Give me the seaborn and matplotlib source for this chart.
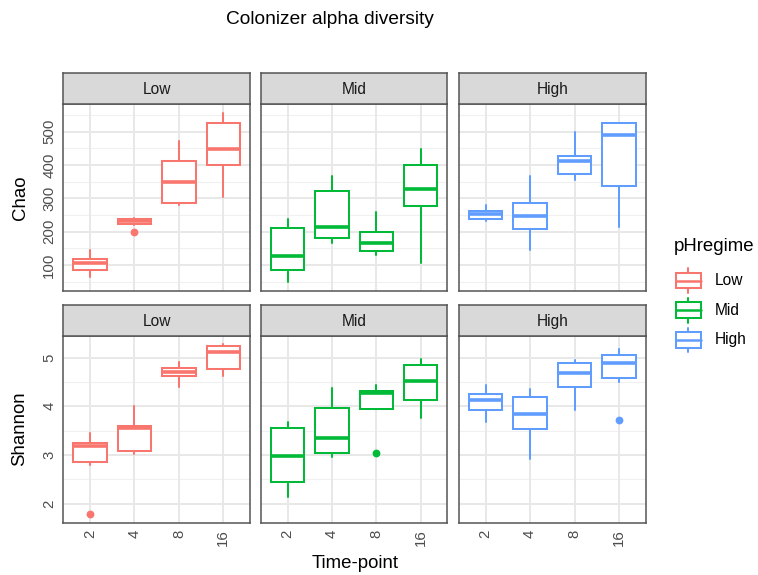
import matplotlib
matplotlib.use("Agg")
import matplotlib.pyplot as plt
from matplotlib.patches import Rectangle
import numpy as np
import pandas as pd
import seaborn as sns

# ---------------------------------------------------------------- data
timepoints = ["2", "4", "8", "16"]
regimes = ["Low", "Mid", "High"]
metrics = ["Chao", "Shannon"]

# per time-point: [lower whisker, Q1, median, Q3, upper whisker]
chao_low = [[65, 85, 105, 117, 145], [221, 223, 232, 239, 241],
            [280, 287, 348, 413, 473], [305, 400, 447, 527, 557]]
chao_mid = [[48, 85, 128, 210, 238], [167, 182, 215, 323, 367],
            [130, 143, 165, 198, 258], [107, 278, 327, 400, 447]]
chao_high = [[233, 237, 252, 263, 280], [145, 208, 248, 285, 367],
             [355, 372, 412, 427, 500], [215, 337, 489, 525, 527]]

shannon_low = [[2.79, 2.86, 3.18, 3.25, 3.44], [3.01, 3.08, 3.56, 3.59, 4.00],
               [4.40, 4.62, 4.71, 4.78, 4.92], [4.62, 4.77, 5.12, 5.24, 5.27]]
shannon_mid = [[2.14, 2.45, 2.98, 3.55, 3.68], [2.96, 3.03, 3.34, 3.97, 4.37],
               [3.95, 3.95, 4.27, 4.32, 4.43], [3.75, 4.13, 4.52, 4.85, 4.98]]
shannon_high = [[3.68, 3.92, 4.13, 4.26, 4.44], [2.91, 3.53, 3.85, 4.20, 4.36],
                [3.92, 4.40, 4.68, 4.88, 4.95], [4.49, 4.58, 4.88, 5.05, 5.17]]

chao_outliers = {("Low", "4"): [200]}
shannon_outliers = {("Low", "2"): [1.78], ("Mid", "8"): [3.03], ("High", "16"): [3.71]}

chao_ticks = [100, 200, 300, 400, 500]
shannon_ticks = [2, 3, 4, 5]

summaries = {
    "Chao": {"Low": chao_low, "Mid": chao_mid, "High": chao_high},
    "Shannon": {"Low": shannon_low, "Mid": shannon_mid, "High": shannon_high},
}
outliers = {"Chao": chao_outliers, "Shannon": shannon_outliers}
yticks = {"Chao": chao_ticks, "Shannon": shannon_ticks}

rows = []
for m in metrics:
    for r in regimes:
        for t, (wl, q1, med, q3, wh) in zip(timepoints, summaries[m][r]):
            rows.append(dict(metric=m, regime=r, time=t, whislo=wl, q1=q1,
                             med=med, q3=q3, whishi=wh,
                             fliers=outliers[m].get((r, t), [])))
df = pd.DataFrame(rows)

# ---------------------------------------------------------------- style
sns.set_theme(style="white")
plt.rcParams["font.family"] = ["Liberation Sans", "DejaVu Sans"]
palette = dict(zip(regimes, sns.color_palette(["#F8766D", "#00BA38", "#619CFF"])))

W, H = 758, 575
fig = plt.figure(figsize=(W / 100, H / 100), dpi=100)
fig.patch.set_facecolor("white")


def px_axes(x0, y0, x1, y1):
    return fig.add_axes([x0 / W, 1 - y1 / H, (x1 - x0) / W, (y1 - y0) / H])


col_x = [(63.3, 250.0), (261.0, 447.3), (459.0, 645.7)]
row_y = [((73.3, 104.3), (104.3, 290.7)), ((305.0, 336.0), (336.0, 522.7))]
border = "#555555"
tick_col = "#4D4D4D"
lw_box = 1.45

for ri, m in enumerate(metrics):
    sub_m = df[df.metric == m]
    vals = np.concatenate([sub_m[["whislo", "whishi"]].to_numpy().ravel(),
                           np.concatenate([np.asarray(f, float) for f in sub_m.fliers] + [np.array([])])])
    lo, hi = vals.min(), vals.max()
    pad = 0.05 * (hi - lo)
    ticks = yticks[m]
    step = ticks[1] - ticks[0]
    minor = np.arange(ticks[0] - step / 2, ticks[-1] + step, step)

    (sy0, sy1), (py0, py1) = row_y[ri]
    for ci, r in enumerate(regimes):
        x0, x1 = col_x[ci]
        sub = sub_m[sub_m.regime == r].set_index("time").loc[timepoints]
        ax = px_axes(x0, py0, x1, py1)
        ax.set_facecolor("white")
        ax.set_xlim(0.4, len(timepoints) + 0.6)
        ax.set_ylim(lo - pad, hi + pad)

        # grid
        for v in minor:
            ax.axhline(v, color="#F0F0F0", lw=0.8, zorder=0)
        for v in ticks:
            ax.axhline(v, color="#E8E8E8", lw=1.4, zorder=0)
        for k in range(len(timepoints)):
            ax.axvline(k + 1, color="#E8E8E8", lw=1.4, zorder=0)

        color = palette[r]
        stats = [dict(whislo=row.whislo, q1=row.q1, med=row.med, q3=row.q3,
                      whishi=row.whishi, fliers=row.fliers, label=t)
                 for t, row in sub.iterrows()]
        ax.bxp(stats, positions=np.arange(1, len(timepoints) + 1), widths=0.75,
               showcaps=False, showfliers=True, patch_artist=True,
               boxprops=dict(facecolor="white", edgecolor=color, linewidth=lw_box),
               medianprops=dict(color=color, linewidth=2.6, solid_capstyle="butt"),
               whiskerprops=dict(color=color, linewidth=lw_box),
               flierprops=dict(marker="o", markerfacecolor=color, markeredgecolor=color,
                               markersize=4.6, linestyle="none"),
               zorder=3)

        ax.set_xticks(np.arange(1, len(timepoints) + 1))
        ax.set_xlim(0.4, len(timepoints) + 0.6)
        ax.set_yticks(ticks)
        ax.tick_params(axis="both", length=3, width=0.9, color="#333333",
                       labelcolor=tick_col, labelsize=10.8, pad=2)
        if ri == len(metrics) - 1:
            ax.set_xticklabels(timepoints, rotation=90)
        else:
            ax.set_xticklabels([])
        if ci == 0:
            ax.set_yticklabels([str(t) for t in ticks], rotation=90, va="center")
        else:
            ax.set_yticklabels([])
            ax.tick_params(axis="y", length=0)
        for s in ax.spines.values():
            s.set_color(border)
            s.set_linewidth(1.1)
        ax.grid(False)

        # facet strip
        sax = px_axes(x0, sy0, x1, sy1)
        sax.set_facecolor("#D9D9D9")
        sax.set_xticks([])
        sax.set_yticks([])
        for s in sax.spines.values():
            s.set_color(border)
            s.set_linewidth(1.1)
        sax.text(0.5, 0.48, r, ha="center", va="center", fontsize=11.2,
                 color="#1A1A1A", transform=sax.transAxes)

# titles and axis labels
fig.text(330 / W, 1 - 20 / H, "Colonizer alpha diversity", ha="center", va="center",
         fontsize=13.8, color="black")
fig.text(20 / W, 1 - 197.5 / H, "Chao", rotation=90, ha="center", va="center",
         fontsize=13.4, color="black")
fig.text(20 / W, 1 - 429 / H, "Shannon", rotation=90, ha="center", va="center",
         fontsize=13.4, color="black")
fig.text(355 / W, 1 - 563 / H, "Time-point", ha="center", va="center",
         fontsize=13.4, color="black")

# legend with boxplot keys
lax = px_axes(655, 225, 758, 360)
lax.set_xlim(655, 758)
lax.set_ylim(360, 225)
lax.axis("off")
lax.text(674, 246, "pHregime", ha="left", va="center", fontsize=13.4, color="black")
for k, r in enumerate(regimes):
    cy = 280.5 + k * 29.7
    cx = 688.3
    c = palette[r]
    lax.plot([cx, cx], [cy - 12.3, cy - 7.8], color=c, lw=lw_box)
    lax.plot([cx, cx], [cy + 7.8, cy + 12.3], color=c, lw=lw_box)
    lax.add_patch(Rectangle((cx - 12.3, cy - 7.8), 24.6, 15.6, facecolor="white",
                            edgecolor=c, lw=lw_box))
    lax.plot([cx - 12.3, cx + 12.3], [cy, cy], color=c, lw=1.8)
    lax.text(715, cy, r, ha="left", va="center", fontsize=11.2, color="black")

fig.savefig("out.png", dpi=100, facecolor="white")
